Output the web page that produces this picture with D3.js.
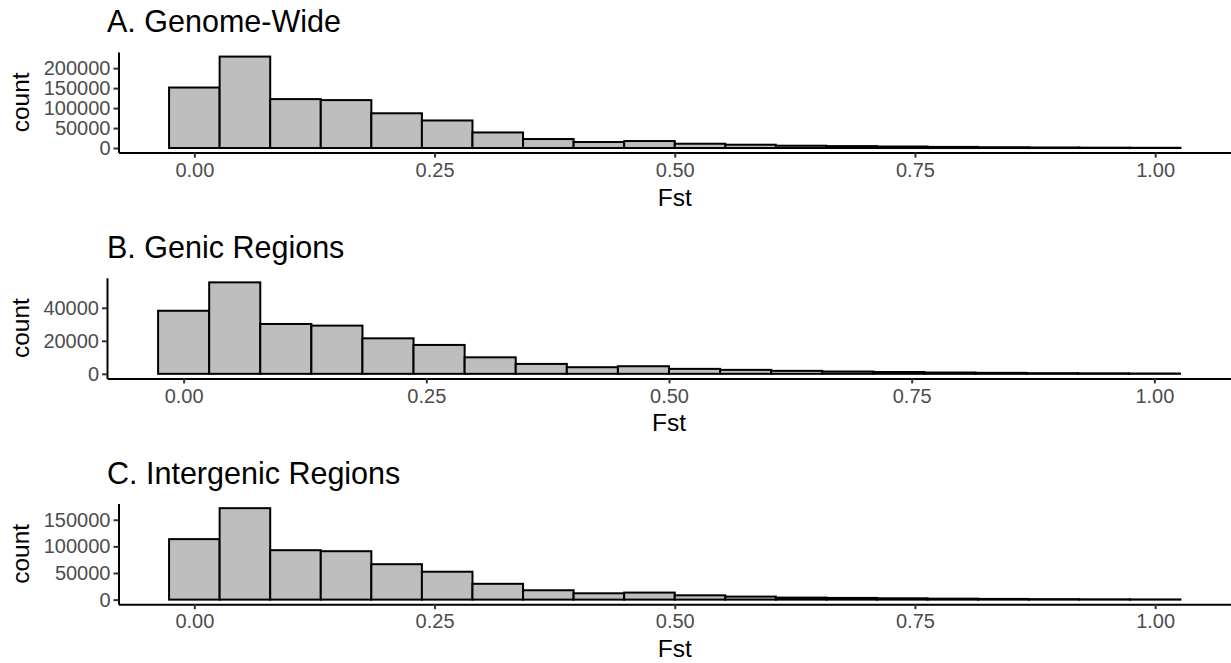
<!DOCTYPE html>
<html>
<head>
<meta charset="utf-8">
<script src="https://cdn.jsdelivr.net/npm/d3@7"></script>
<style>
  body { margin: 0; background: white; }
  svg text { font-family: "Liberation Sans", Arial, Helvetica, sans-serif; }
</style>
</head>
<body>
<svg id="chart" width="1231" height="663"></svg>
<script>
// histogram counts, 20 bins of width 1/19 centred on 0 ... 1
const panelTitles = ["A. Genome-Wide", "B. Genic Regions", "C. Intergenic Regions"]
const genomeWide = [151500, 229000, 122500, 120000, 87000, 69000, 39000, 22500, 15000, 17500,
                    10750, 8250, 5800, 4800, 3800, 2800, 2000, 1400, 900, 600]
const genicRegions = [38200, 55400, 30200, 29200, 21500, 17500, 10000, 6000, 4000, 4600,
                      3000, 2400, 1800, 1400, 1100, 800, 600, 400, 300, 200]
const intergenicRegions = [113600, 171700, 92800, 90900, 66500, 52400, 29700, 17600, 11900, 13250,
                           8100, 5700, 3800, 3200, 2500, 1800, 1300, 900, 600, 400]
const yTicks = [
    [0, 50000, 100000, 150000, 200000],
    [0, 20000, 40000],
    [0, 50000, 100000, 150000]
]
const xTicks = [0, 0.25, 0.5, 0.75, 1]
const series = [genomeWide, genicRegions, intergenicRegions]

const binWidth = 1 / 19
const svg = d3.select("#chart")
const panelLeft = [118.5, 107, 118.5]
const panelRight = 1231
const panelHeight = 100.6

series.forEach(function(counts, i) {
    const top = 52 + i * 225.8
    const bottom = top + panelHeight
    const left = panelLeft[i]
    const g = svg.append("g")

    const lo = -binWidth / 2, hi = 1 + binWidth / 2
    const pad = (hi - lo) * 0.05
    const x = d3.scaleLinear().domain([lo - pad, hi + pad]).range([left, panelRight])
    const maxV = d3.max(counts)
    const y = d3.scaleLinear().domain([-0.05 * maxV, 1.05 * maxV]).range([bottom, top])

    // bars
    g.selectAll("rect.bar")
        .data(counts)
        .enter()
        .append("rect")
        .attr("class", "bar")
        .attr("x", (d, k) => x(k * binWidth - binWidth / 2))
        .attr("width", x(binWidth) - x(0))
        .attr("y", d => y(d))
        .attr("height", d => y(0) - y(d))
        .attr("fill", "#BEBEBE")
        .attr("stroke", "black")
        .attr("stroke-width", 2)

    // x axis
    const xAxis = g.append("g")
        .attr("transform", "translate(0," + bottom + ")")
        .call(d3.axisBottom(x).tickValues(xTicks).tickFormat(d3.format(".2f")).tickSize(5).tickSizeOuter(0))
    xAxis.select(".domain").attr("stroke", "black").attr("stroke-width", 2)
    xAxis.selectAll(".tick line").attr("stroke", "#333333").attr("stroke-width", 2)
    xAxis.selectAll(".tick text")
        .attr("fill", "#4D4D4D")
        .attr("font-size", 20)
        .attr("y", 10)

    // y axis
    const yAxis = g.append("g")
        .attr("transform", "translate(" + left + ",0)")
        .call(d3.axisLeft(y).tickValues(yTicks[i]).tickFormat(d3.format("d")).tickSize(5).tickSizeOuter(0))
    yAxis.select(".domain").attr("stroke", "black").attr("stroke-width", 2)
    yAxis.selectAll(".tick line").attr("stroke", "#333333").attr("stroke-width", 2)
    yAxis.selectAll(".tick text")
        .attr("fill", "#4D4D4D")
        .attr("font-size", 20)
        .attr("x", -8)

    // titles
    g.append("text")
        .attr("x", 107)
        .attr("y", top - 20)
        .attr("font-size", 30.5)
        .attr("fill", "black")
        .text(panelTitles[i])
    g.append("text")
        .attr("transform", "translate(29," + (top + panelHeight / 2) + ") rotate(-90)")
        .attr("text-anchor", "middle")
        .attr("font-size", 24.5)
        .attr("fill", "black")
        .text("count")
    g.append("text")
        .attr("x", (left + panelRight) / 2)
        .attr("y", bottom + 53)
        .attr("text-anchor", "middle")
        .attr("font-size", 24.5)
        .attr("fill", "black")
        .text("Fst")
})
</script>
</body>
</html>
